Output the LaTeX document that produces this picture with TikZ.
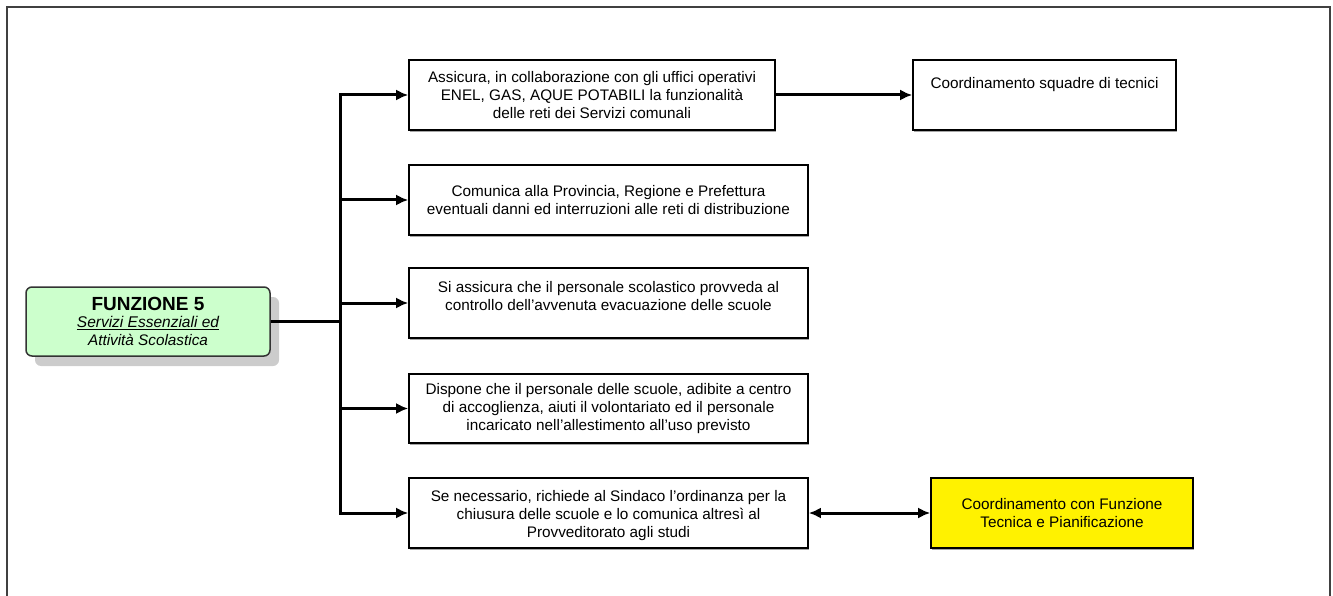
\documentclass[tikz,border=0pt]{standalone}
\usepackage{fontspec}
\setmainfont{Liberation Sans}
\usetikzlibrary{arrows.meta,shadows}
\begin{document}
\begin{tikzpicture}[x=1pt,y=-1pt,
  every node/.style={font=\fontsize{15.3}{18}\selectfont, align=center, inner sep=0pt},
  taskbox/.style={draw=black, line width=1.6pt, fill=white, minimum height=70pt,
    drop shadow={shadow xshift=0.8pt, shadow yshift=-1.8pt, fill=gray!70, opacity=1}},
  mainbox/.style={draw=black!80, line width=1.5pt, fill=green!20!white, rounded corners=6pt,
    minimum width=244pt, minimum height=69pt,
    drop shadow={shadow xshift=9pt, shadow yshift=-10pt, fill=gray!40, opacity=1}},
  conn/.style={line width=3pt, draw=black},
  tip/.style={-{Latex[length=12pt,width=11pt]}},
  both/.style={{Latex[length=12pt,width=11pt]}-{Latex[length=12pt,width=11pt]}}
]
\useasboundingbox (0,0) rectangle (1333,596);
% page frame
\draw[line width=1.6pt, draw=black!75] (7,596) -- (7,7) -- (1330,7) -- (1330,596);

% main function box
\node[mainbox] (f5) at (148,321.5) {{\fontsize{19}{20}\selectfont\bfseries FUNZIONE 5}\\[-1pt]
  \fontsize{15.5}{18}\selectfont\itshape\underline{Servizi Essenziali ed}\\ \itshape Attività Scolastica};

% activity boxes
\node[taskbox, minimum width=366pt] (a) at (592,95)
  {Assicura, in collaborazione con gli uffici operativi\\ENEL, GAS, AQUE POTABILI la funzionalità\\delle reti dei Servizi comunali};
\node[taskbox, minimum width=263pt] (sq) at (1044.5,95)
  {Coordinamento squadre di tecnici\\[6pt] \mbox{}};
\node[taskbox, minimum width=399pt] (b) at (608.5,200)
  {Comunica alla Provincia, Regione e Prefettura\\eventuali danni ed interruzioni alle reti di distribuzione};
\node[taskbox, minimum width=399pt] (c) at (608.5,303)
  {Si assicura che il personale scolastico provveda al\\controllo dell'avvenuta evacuazione delle scuole\\[-4pt]\mbox{}};
\node[taskbox, minimum width=399pt, minimum height=69pt] (d) at (608.5,408.5)
  {Dispone che il personale delle scuole, adibite a centro\\di accoglienza, aiuti il volontariato ed il personale\\incaricato nell'allestimento all'uso previsto};
\node[taskbox, minimum width=399pt] (e) at (608.5,513)
  {\\[-2pt]Se necessario, richiede al Sindaco l'ordinanza per la\\chiusura delle scuole e lo comunica altresì al\\Provveditorato agli studi};
\node[taskbox, fill=yellow, minimum width=262pt] (y) at (1062,513)
  {Coordinamento con Funzione\\Tecnica e Pianificazione};

% trunk
\coordinate (j) at (340,321.5);
\coordinate (jt) at (340,95);
\coordinate (jb) at (340,513);
\draw[conn] (f5.east) -- (j);
\draw[conn, line cap=rect] (jt) -- (jb);
\draw[conn, tip] (jt) -- (a.west);
\draw[conn, tip] (340,200) -- (b.west);
\draw[conn, tip] (340,303) -- (c.west);
\draw[conn, tip] (340,408.5) -- (d.west);
\draw[conn, tip] (jb) -- (e.west);

\draw[conn, tip] (a.east) -- (sq.west);
\draw[conn, both] (e.east) -- (y.west);
\end{tikzpicture}
\end{document}
